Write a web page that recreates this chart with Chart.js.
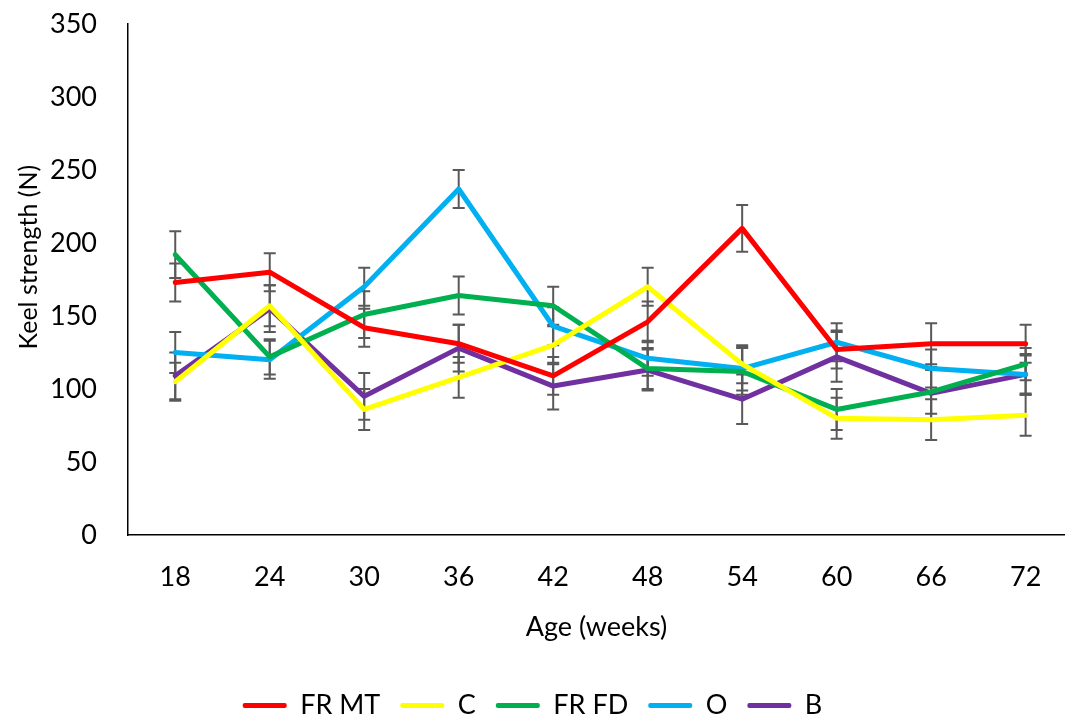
<!DOCTYPE html>
<html lang="en">
<head>
    <meta charset="UTF-8">
    <title>Keel strength</title>
    <script src="https://cdn.jsdelivr.net/npm/chart.js"></script>
    <style>
        body { margin: 0; background: #fff; }
    </style>
</head>
<body>
<canvas id="myChart" width="1065" height="720"></canvas>

<script>
    // data
    const ages = [18, 24, 30, 36, 42, 48, 54, 60, 66, 72];
    const seriesNames = ['FR MT', 'C', 'FR FD', 'O', 'B'];
    const frMt = [173, 180, 142, 131, 109, 146, 210, 127, 131, 131];
    const cVals = [105, 157, 86, 108, 130, 170, 117, 80, 79, 82];
    const frFd = [192, 122, 151, 164, 157, 114, 112, 86, 98, 117];
    const oVals = [125, 120, 170, 237, 143, 121, 114, 132, 114, 110];
    const bVals = [109, 155, 95, 128, 102, 113, 93, 122, 97, 110];
    // error bar sizes (+/-)
    const frMtErr = [13, 13, 13, 13, 13, 14, 16, 13, 14, 13];
    const cErr = [13, 14, 14, 14, 13, 13, 13, 14, 14, 14];
    const frFdErr = [16, 12, 16, 13, 13, 14, 16, 14, 15, 11];
    const oErr = [14, 13, 13, 13, 13, 12, 15, 13, 13, 13];
    const bErr = [16, 16, 16, 16, 16, 14, 17, 17, 18, 14];
    const yTicks = [0, 50, 100, 150, 200, 250, 300, 350];

    const colors = ['#FF0000', '#FFFF00', '#00B050', '#00B0F0', '#7030A0'];
    const allVals = [frMt, cVals, frFd, oVals, bVals];
    const allErr = [frMtErr, cErr, frFdErr, oErr, bErr];

    const FONT = 'Lato, "Open Sans", sans-serif';

    //setup
    const data = {
        datasets: seriesNames.map((name, k) => ({
            label: name,
            data: ages.map((a, i) => ({ x: a, y: allVals[k][i] })),
            err: allErr[k],
            borderColor: colors[k],
            backgroundColor: colors[k],
            borderWidth: 5,
            borderCapStyle: 'round',
            borderJoinStyle: 'round',
            pointRadius: 0,
            tension: 0
        }))
    };

    // error bars drawn with the chart's own scales
    const errorBars = {
        id: 'errorBars',
        beforeDatasetsDraw(chart) {
            const ctx = chart.ctx;
            const xs = chart.scales.x, ys = chart.scales.y;
            ctx.save();
            ctx.strokeStyle = '#595959';
            ctx.lineWidth = 2;
            chart.data.datasets.forEach(ds => {
                ds.data.forEach((p, i) => {
                    const px = xs.getPixelForValue(p.x);
                    const top = ys.getPixelForValue(p.y + ds.err[i]);
                    const bot = ys.getPixelForValue(p.y - ds.err[i]);
                    ctx.beginPath();
                    ctx.moveTo(px, top); ctx.lineTo(px, bot);
                    ctx.moveTo(px - 6, top); ctx.lineTo(px + 6, top);
                    ctx.moveTo(px - 6, bot); ctx.lineTo(px + 6, bot);
                    ctx.stroke();
                });
            });
            ctx.restore();
        }
    };

    //config
    const config = {
        type: 'line',
        data: data,
        plugins: [errorBars],
        options: {
            responsive: false,
            animation: false,
            layout: { padding: { top: 24, right: 0, bottom: -9, left: 0 } },
            plugins: {
                tooltip: { enabled: false },
                legend: {
                    position: 'bottom',
                    labels: {
                        color: '#000',
                        font: { family: FONT, size: 27 },
                        boxWidth: 44,
                        boxHeight: 5,
                        padding: 20,
                        useBorderRadius: true,
                        borderRadius: 2,
                        generateLabels(chart) {
                            return Chart.defaults.plugins.legend.labels.generateLabels(chart)
                                .map(l => Object.assign(l, { lineWidth: 0 }));
                        }
                    }
                }
            },
            scales: {
                x: {
                    type: 'linear',
                    min: 15,
                    max: 74.5,
                    grid: { display: false, drawTicks: true, tickLength: 26 },
                    border: { display: true, color: '#000', width: 1.5 },
                    afterBuildTicks(s) { s.ticks = ages.map(v => ({ value: v })); },
                    afterFit(s) { s.height = 137; },
                    ticks: {
                        color: '#000',
                        padding: 0,
                        font: { family: FONT, size: 27 },
                        maxRotation: 0
                    },
                    title: {
                        display: true,
                        text: 'Age (weeks)',
                        color: '#000',
                        font: { family: FONT, size: 27 },
                        padding: { top: 0, bottom: 29 }
                    }
                },
                y: {
                    min: 0,
                    max: 350,
                    grid: { display: false, drawTicks: true, tickLength: 31 },
                    border: { display: true, color: '#000', width: 1.5 },
                    afterBuildTicks(s) { s.ticks = yTicks.map(v => ({ value: v })); },
                    afterFit(s) { s.width = 128; },
                    ticks: {
                        color: '#000',
                        padding: 0,
                        font: { family: FONT, size: 27 }
                    },
                    title: {
                        display: true,
                        text: '\u00a0\u00a0\u00a0\u00a0\u00a0\u00a0\u00a0Keel strength (N)',
                        color: '#000',
                        font: { family: FONT, size: 25 },
                        padding: { top: 14, bottom: 0 }
                    }
                }
            }
        }
    };

    //render
    const chart = new Chart(document.getElementById('myChart'), config);
</script>
</body>
</html>
